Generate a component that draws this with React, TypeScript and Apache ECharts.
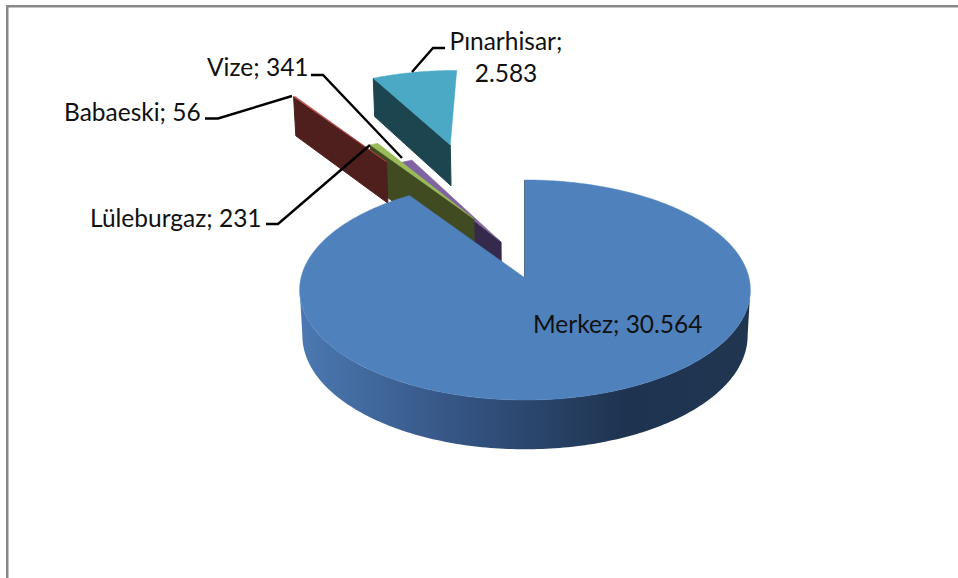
import React, { useEffect, useRef } from "react";
import * as echarts from "echarts";

// Data, clockwise from 12 o'clock
const categories = ["Merkez", "Babaeski", "Lüleburgaz", "Vize", "Pınarhisar"];
const values = [30564, 56, 231, 341, 2583];

// Styling, in the same order
const topColors = ["#4F81BD", "#C0504D", "#9BBB59", "#8064A2", "#4BA9C5"];
const wallColors = ["#1E3350", "#4F1F1D", "#404B22", "#352A4B", "#1D4550"];
const layerOrder = [5, 3, 2, 1, 0];
// Slice explosion, in pie-plane units (x right, y toward the viewer)
const explodeX = [0, -0.7, -0.243, -0.111, -0.385];
const explodeY = [0, -1.21, -0.579, -0.344, -1.412];

// Leader label placement
const labelX = [533, 64, 90, 207, 506];
const labelY = [323, 111, 217, 66, 56];
const labelAlign = ["left", "left", "left", "left", "center"];
const leaderLines: (number[][] | null)[] = [
  null,
  [[205, 118.5], [218, 118.5], [292, 96]],
  [[266, 224], [278, 224], [370, 145]],
  [[311, 75], [323, 75], [402, 158]],
  [[445, 48], [433, 48], [412, 72]],
];

// Perspective projection of the pie
const CX = 525;
const CY = 278;
const RX = 224;
const RY = 108.7;
const PERSPECTIVE = 0.109;
const DEPTH = 46;
const DEPTH_W = 0.012;

const project = (x: number, y: number, lower: boolean): number[] => {
  const w = 1 - PERSPECTIVE * y + (lower ? DEPTH_W : 0);
  return [CX + (RX * x) / w, CY + (RY * y + (lower ? DEPTH : 0)) / w];
};

const total = values.reduce((a, b) => a + b, 0);
const startAngles: number[] = [];
values.reduce((acc, v) => {
  startAngles.push(acc);
  return acc + (v / total) * 360;
}, 0);

const rad = (deg: number) => (deg * Math.PI) / 180;
const dir = (deg: number) => [Math.sin(rad(deg)), -Math.cos(rad(deg))];
const formatValue = (v: number) => String(v).replace(/\B(?=(\d{3})+$)/g, ".");

const renderSlice = (params: any, api: any) => {
  const i = params.dataIndex;
  const a0 = startAngles[i];
  const a1 = a0 + (api.value(0) / total) * 360;
  const ox = explodeX[i];
  const oy = explodeY[i];
  const rim = (deg: number, lower: boolean) => {
    const d = dir(deg);
    return project(ox + d[0], oy + d[1], lower);
  };
  const topPts: number[][] = [project(ox, oy, false)];
  const steps = Math.max(2, Math.ceil(a1 - a0));
  for (let s = 0; s <= steps; s++) topPts.push(rim(a0 + ((a1 - a0) * s) / steps, false));

  const z = layerOrder[i] * 10;
  const children: any[] = [
    {
      type: "polygon",
      z2: z,
      shape: {
        points: [project(ox, oy, false), rim(a0, false), rim(a0, true), project(ox, oy, true)],
      },
      style: { fill: wallColors[i], stroke: wallColors[i], lineWidth: 1 },
    },
  ];
  if (i === 0) {
    const upper: number[][] = [];
    const lower: number[][] = [];
    for (let d = 96; d <= 264; d++) {
      upper.push(rim(d, false));
      lower.push(rim(d, true));
    }
    children.push({
      type: "polygon",
      z2: z + 1,
      shape: { points: upper.concat(lower.reverse()) },
      style: {
        fill: new echarts.graphic.LinearGradient(1, 0, 0, 0, [
          { offset: 0, color: "#203650" },
          { offset: 0.28, color: "#1E3350" },
          { offset: 0.7, color: "#38598A" },
          { offset: 1, color: "#4B79B1" },
        ]),
      },
    });
  }
  children.push({
    type: "polygon",
    z2: z + 2,
    shape: { points: topPts },
    style: { fill: topColors[i], stroke: topColors[i], lineWidth: 0.5 },
  });
  return { type: "group", children };
};

const textFont = '24.5px Lato, "Open Sans", sans-serif';

const buildGraphic = () => {
  const items: any[] = [
    { type: "rect", shape: { x: 6, y: 5, width: 952, height: 2.5 }, style: { fill: "#888888" } },
    { type: "rect", shape: { x: 6, y: 5, width: 2.5, height: 573 }, style: { fill: "#888888" } },
  ];
  categories.forEach((name, i) => {
    const pts = leaderLines[i];
    if (pts) {
      items.push({
        type: "polyline",
        z: 20,
        shape: { points: pts },
        style: { stroke: "#000000", lineWidth: 2.4, fill: "none" },
      });
    }
    const sep = name === "Pınarhisar" ? ";\n" : "; ";
    items.push({
      type: "text",
      z: 20,
      x: labelX[i],
      y: labelY[i],
      style: {
        text: `${name}${sep}${formatValue(values[i])}`,
        font: textFont,
        fill: "#111111",
        align: labelAlign[i],
        verticalAlign: "middle",
        lineHeight: 32,
      },
    });
  });
  return items;
};

export default function App() {
  const ref = useRef<HTMLDivElement>(null);
  useEffect(() => {
    const chart = echarts.init(ref.current!, undefined, { renderer: "svg" });
    chart.setOption({
      animation: false,
      backgroundColor: "#ffffff",
      series: [
        {
          type: "custom",
          coordinateSystem: "none",
          renderItem: renderSlice,
          data: categories.map((name, i) => ({ name, value: [values[i]] })),
          encode: { value: 0 },
          silent: true,
        },
      ],
      graphic: buildGraphic(),
    });
    return () => chart.dispose();
  }, []);
  return (
    <div
      ref={ref}
      style={{ position: "absolute", left: 0, top: 0, width: 958, height: 578 }}
    />
  );
}
